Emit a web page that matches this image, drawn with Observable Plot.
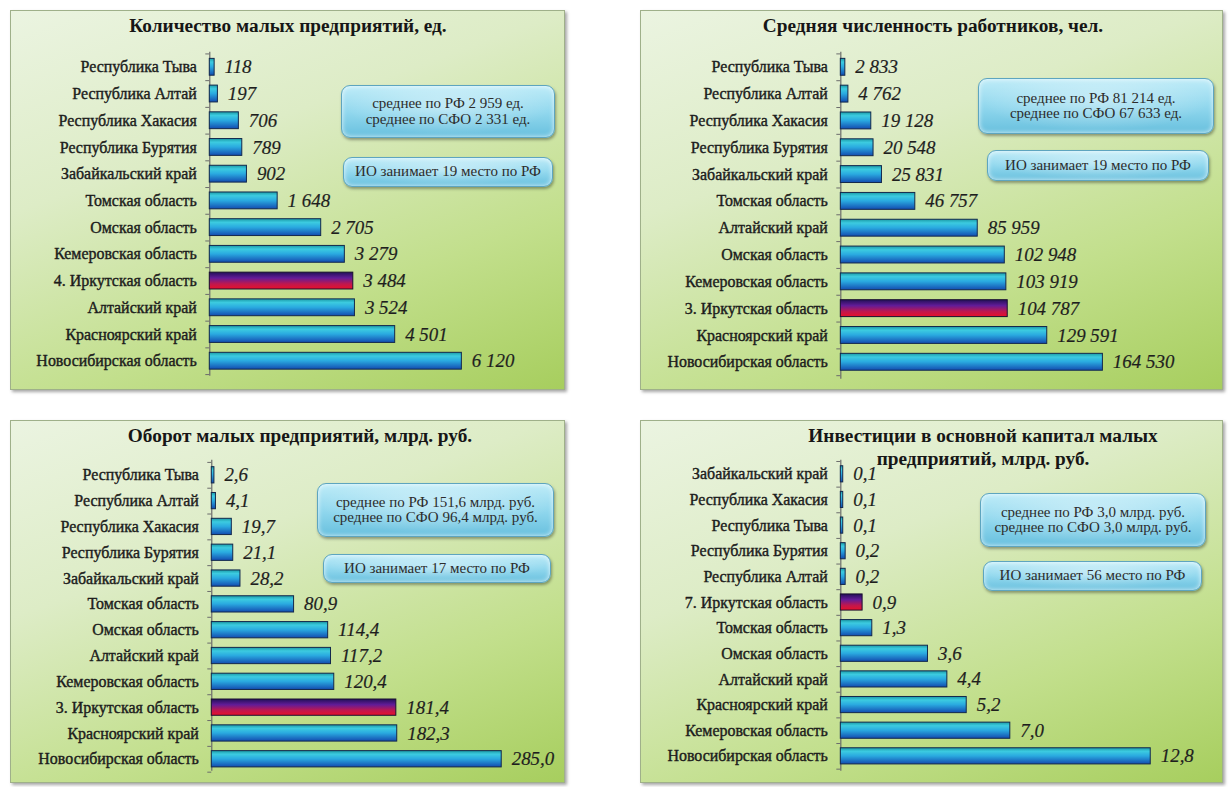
<!DOCTYPE html>
<html><head><meta charset="utf-8">
<script src="https://cdn.jsdelivr.net/npm/d3@7"></script>
<script src="https://cdn.jsdelivr.net/npm/@observablehq/plot@0.6"></script>
<style>
body{margin:0;background:#fff;width:1229px;height:787px;position:relative;overflow:hidden;font-family:'Liberation Serif','Times New Roman',serif;}
.panel{position:absolute;box-sizing:border-box;border:1px solid #9fb08a;box-shadow:2px 2px 3px rgba(0,0,0,.35);
  background:linear-gradient(160deg,#ebf4e1 0%,#ddecc6 35%,#c2df8c 70%,#a7ce5e 100%);}
.panel svg{position:absolute;left:-1px;top:-1px;}
.title{position:absolute;font-family:'Liberation Serif','Times New Roman',serif;font-weight:bold;font-size:19.3px;color:#161616;text-align:center;white-space:nowrap;transform:translate(-50%,-50%);line-height:23px;}
.box{position:absolute;box-sizing:border-box;border-radius:9px;border:1px solid #5ea5bf;
  font-family:'Liberation Serif','Times New Roman',serif;
  background:radial-gradient(ellipse 70% 80% at 50% 40%, rgba(255,255,255,.4), rgba(255,255,255,0) 70%), linear-gradient(#bfecf8 0%,#92d8ee 50%,#68c0de 100%);
  box-shadow:1px 2px 3px rgba(0,0,0,.35), inset 0 0 5px rgba(255,255,255,.8);
  display:flex;align-items:center;justify-content:center;text-align:center;font-size:15px;color:#2c2c2c;line-height:15.5px;white-space:nowrap;}
</style>
</head><body>
<script>
// ---- data ----
const namesCount = ["Республика Тыва","Республика Алтай","Республика Хакасия","Республика Бурятия","Забайкальский край","Томская область","Омская область","Кемеровская область","4. Иркутская область","Алтайский край","Красноярский край","Новосибирская область"];
const valuesCount = [118,197,706,789,902,1648,2705,3279,3484,3524,4501,6120];

const namesWorkers = ["Республика Тыва","Республика Алтай","Республика Хакасия","Республика Бурятия","Забайкальский край","Томская область","Алтайский край","Омская область","Кемеровская область","3. Иркутская область","Красноярский край","Новосибирская область"];
const valuesWorkers = [2833,4762,19128,20548,25831,46757,85959,102948,103919,104787,129591,164530];

const namesTurnover = ["Республика Тыва","Республика Алтай","Республика Хакасия","Республика Бурятия","Забайкальский край","Томская область","Омская область","Алтайский край","Кемеровская область","3. Иркутская область","Красноярский край","Новосибирская область"];
const valuesTurnover = [2.6,4.1,19.7,21.1,28.2,80.9,114.4,117.2,120.4,181.4,182.3,285.0];

const namesInvest = ["Забайкальский край","Республика Хакасия","Республика Тыва","Республика Бурятия","Республика Алтай","7. Иркутская область","Томская область","Омская область","Алтайский край","Красноярский край","Кемеровская область","Новосибирская область"];
const valuesInvest = [0.1,0.1,0.1,0.2,0.2,0.9,1.3,3.6,4.4,5.2,7.0,12.8];

const titles = [
  ["Количество малых предприятий, ед."],
  ["Средняя численность работников, чел."],
  ["Оборот малых предприятий, млрд. руб."],
  ["Инвестиции в основной капитал малых","предприятий, млрд. руб."]
];
const boxTexts = [
  ["среднее по РФ 2 959 ед.<br>среднее по СФО 2 331 ед.", "ИО занимает 19 место по РФ"],
  ["среднее по РФ 81 214 ед.<br>среднее по СФО 67 633 ед.", "ИО занимает 19 место по РФ"],
  ["среднее по РФ 151,6 млрд. руб.<br>среднее по СФО 96,4 млрд. руб.", "ИО занимает 17 место по РФ"],
  ["среднее по РФ 3,0 млрд. руб.<br>среднее по СФО 3,0 млрд. руб.", "ИО занимает 56 место по РФ"]
];

// ---- formatting ----
const ru = d3.formatLocale({decimal: ",", thousands: "\u00a0", grouping: [3], currency: ["", ""]});
const fInt = ru.format(",d");
const f1 = ru.format(",.1f");

// ---- layout (page px) ----
const layouts = [
  {left:10, top:10, width:555, height:380, axisX:210, endPx:463, firstY:67, lastY:362, axisTop:52, axisBottom:377,
   titleX:288, titleY:25, boxes:[[341,85,214,53],[343,157,210,30]]},
  {left:640, top:10, width:583, height:380, axisX:841, endPx:1104, firstY:67, lastY:363, axisTop:52, axisBottom:380,
   titleX:933, titleY:25, boxes:[[978,78,236,56],[987,150,222,31]]},
  {left:10, top:420, width:555, height:363, axisX:212, endPx:503, firstY:475, lastY:760, axisTop:460, axisBottom:772,
   titleX:300, titleY:435, boxes:[[317,483,237,54],[323,554,228,29]]},
  {left:640, top:420, width:583, height:363, axisX:841, endPx:1152, firstY:474, lastY:757, axisTop:460, axisBottom:772,
   titleX:983, titleY:447, boxes:[[980,493,226,54],[983,561,219,30]]}
];

function defsMark(id) {
  return () => {
    const ns = "http://www.w3.org/2000/svg";
    const d = document.createElementNS(ns, "defs");
    d.innerHTML =
      `<linearGradient id="blue${id}" x1="0" y1="0" x2="0" y2="1">
         <stop offset="0" stop-color="#1b9aa6"/>
         <stop offset="0.22" stop-color="#3ccbe0"/>
         <stop offset="0.5" stop-color="#2aaae0"/>
         <stop offset="1" stop-color="#134cb0"/>
       </linearGradient>
       <linearGradient id="red${id}" x1="0" y1="0" x2="0" y2="1">
         <stop offset="0" stop-color="#221058"/>
         <stop offset="0.35" stop-color="#621c98"/>
         <stop offset="0.7" stop-color="#c0174e"/>
         <stop offset="1" stop-color="#e8102a"/>
       </linearGradient>`;
    return d;
  };
}

function panel(i, names, values, fmt) {
  const L = layouts[i];
  const div = document.createElement("div");
  div.className = "panel";
  Object.assign(div.style, {left: L.left + "px", top: L.top + "px", width: L.width + "px", height: L.height + "px"});
  document.body.appendChild(div);

  const data = names.map((n, k) => ({name: n, value: values[k], hi: /Иркутская/.test(n)}));
  const n = names.length, p = 0.37;
  const step = (L.lastY - L.firstY) / (n - 1);
  const y0 = L.firstY - L.top - step * (1 + p) / 2;
  const y1 = y0 + step * (n + p);
  const maxV = d3.max(values);
  const tickLen = maxV * 4 / (L.endPx - L.axisX);

  const svg = Plot.plot({
    width: L.width, height: L.height,
    marginLeft: 0, marginRight: 0,
    marginTop: L.axisTop - L.top, marginBottom: L.top + L.height - L.axisBottom,
    x: {domain: [0, maxV], range: [L.axisX - L.left, L.endPx - L.left], axis: null},
    y: {domain: names, range: [y0, y1], padding: p, round: false, axis: null},
    style: {background: "transparent", fontFamily: "'Liberation Serif','Times New Roman',serif", overflow: "visible"},
    marks: [
      defsMark(i),
      Plot.ruleX([0], {stroke: "#6b6b6b", strokeWidth: 1.2}),
      Plot.ruleY(data, {y: "name", x1: () => 0, x2: () => -tickLen, dy: step / 2, stroke: "#6b6b6b", strokeWidth: 1}),
      Plot.ruleY(data.slice(0, 1), {y: "name", x1: () => 0, x2: () => -tickLen, dy: -step / 2, stroke: "#6b6b6b", strokeWidth: 1}),
      Plot.barX(data.filter(d => !d.hi), {x: "value", y: "name", fill: `url(#blue${i})`, stroke: "#13284c", strokeWidth: 1}),
      Plot.barX(data.filter(d => d.hi), {x: "value", y: "name", fill: `url(#red${i})`, stroke: "#1a1030", strokeWidth: 1}),
      Plot.text(data, {x: () => 0, y: "name", text: "name", textAnchor: "end", dx: -13, fontSize: 16, fill: "#1c1c1c", stroke: "#1c1c1c", strokeWidth: 0.4}),
      Plot.text(data, {x: "value", y: "name", text: d => fmt(d.value), textAnchor: "start", dx: 10, fontSize: 19, fontStyle: "italic", fill: "#1e1e1e", stroke: "#1e1e1e", strokeWidth: 0.2})
    ]
  });
  div.appendChild(svg);

  const t = document.createElement("div");
  t.className = "title";
  t.innerHTML = titles[i].join("<br>");
  Object.assign(t.style, {left: (L.titleX - L.left - 1) + "px", top: (L.titleY - L.top - 1) + "px"});
  div.appendChild(t);

  L.boxes.forEach((b, k) => {
    const bx = document.createElement("div");
    bx.className = "box";
    bx.innerHTML = boxTexts[i][k];
    Object.assign(bx.style, {left: (b[0] - L.left - 1) + "px", top: (b[1] - L.top - 1) + "px", width: b[2] + "px", height: b[3] + "px"});
    div.appendChild(bx);
  });
}

panel(0, namesCount, valuesCount, fInt);
panel(1, namesWorkers, valuesWorkers, fInt);
panel(2, namesTurnover, valuesTurnover, f1);
panel(3, namesInvest, valuesInvest, f1);
</script>
</body></html>
